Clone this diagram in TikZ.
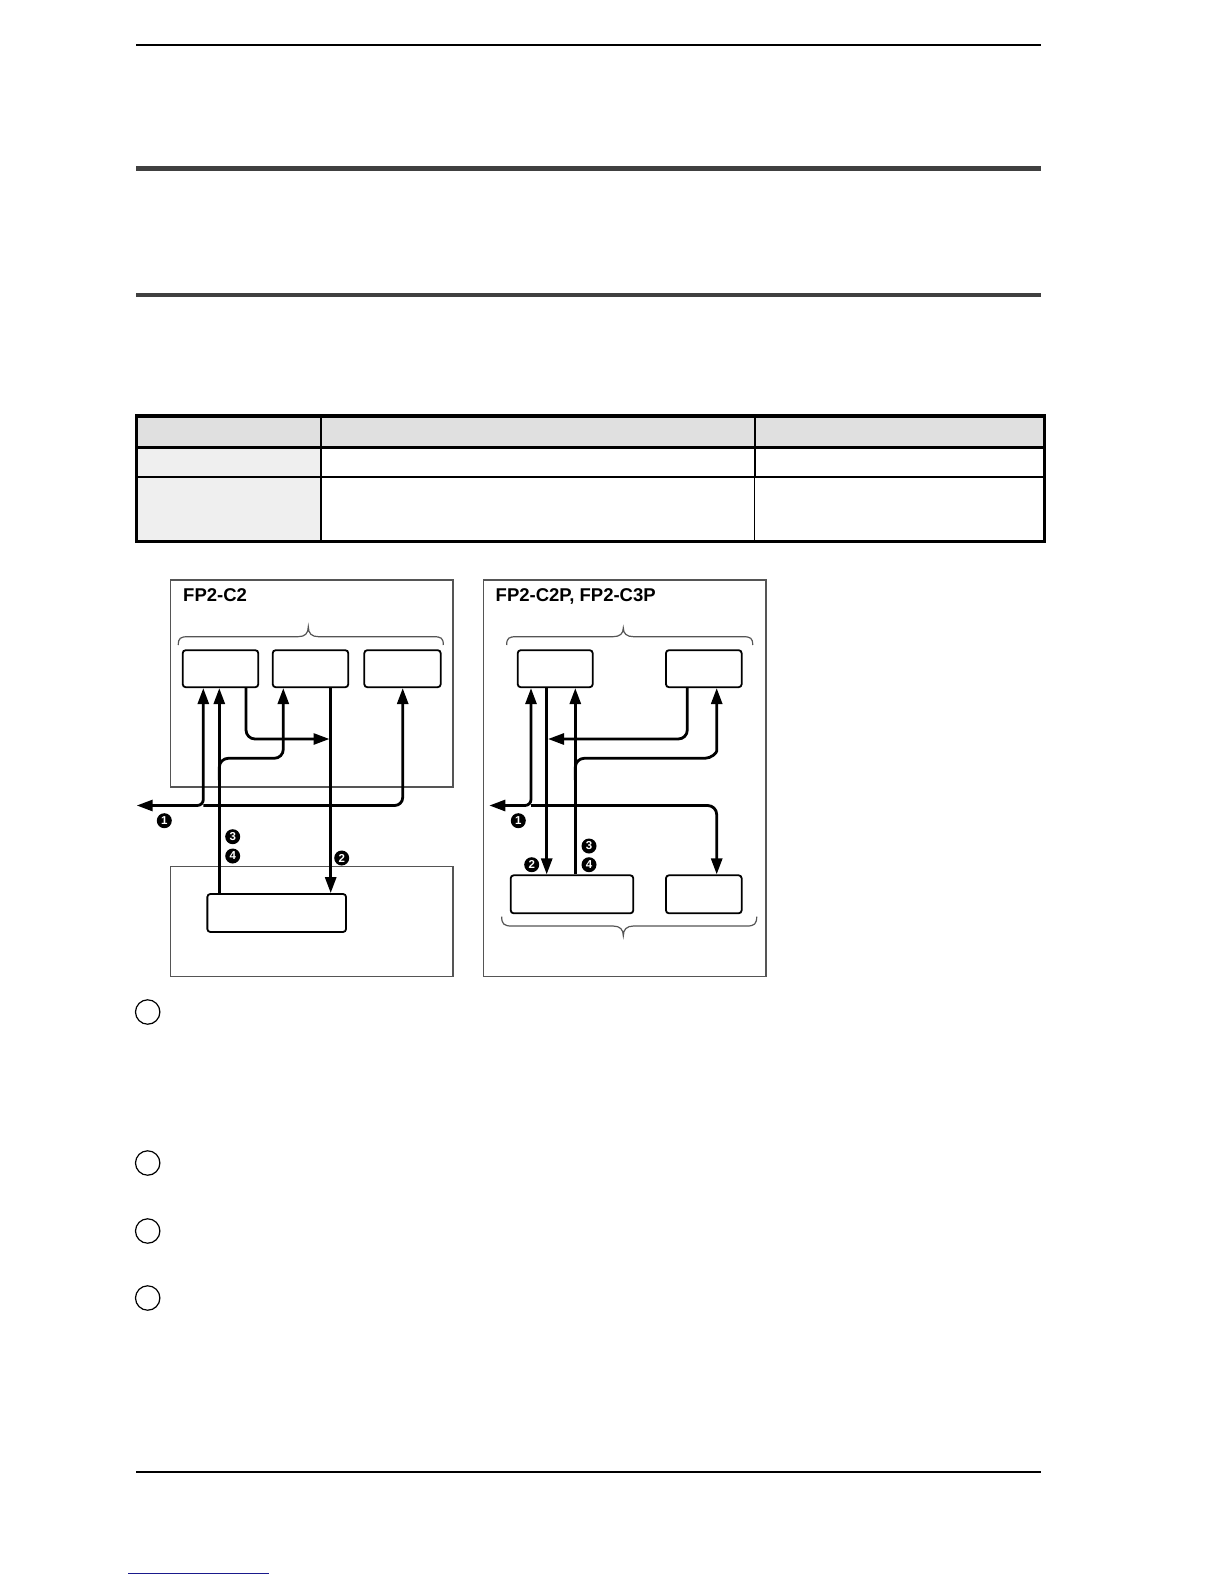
\documentclass[tikz,border=0pt]{standalone}
\usepackage{fontspec}
\setmainfont{Liberation Sans}
\usetikzlibrary{arrows.meta}
\definecolor{bardark}{HTML}{404040}
\definecolor{hdrgray}{HTML}{E0E0E0}
\definecolor{colgray}{HTML}{EFEFEF}
\definecolor{framegray}{HTML}{555555}
\definecolor{linkblue}{HTML}{1A1A8C}
\begin{document}
\begin{tikzpicture}[x=1pt,y=-1pt,
  >={Triangle[length=16pt,width=11pt]},
  modbox/.style={draw=black,line width=1.8pt,rounded corners=3pt,inner sep=0pt,minimum height=37pt},
  framebox/.style={draw=framegray,line width=1.3pt},
  bracepath/.style={draw=framegray,line width=1.2pt},
  conn/.style={draw=black,line width=2.8pt,rounded corners=7pt},
  num/.style={circle,fill=black,text=white,inner sep=0pt,minimum size=15pt,font=\bfseries\fontsize{11.5}{11.5}\selectfont},
  title/.style={anchor=base west,inner sep=0pt,font=\bfseries\fontsize{18.5}{18.5}\selectfont}]
\useasboundingbox (0,0) rectangle (1224,1584);
\fill[white] (0,0) rectangle (1224,1584);

% page rules
\draw[line width=2pt] (136.4,45.5) -- (1041.3,45.5);
\draw[bardark,line width=5pt] (136.4,168.5) -- (1041.3,168.5);
\draw[bardark,line width=4pt] (136.4,294.5) -- (1041.3,294.5);
\draw[line width=2pt] (136.4,1471.6) -- (1041.3,1471.6);
\draw[linkblue,line width=1.5pt] (128.3,1573.6) -- (268.7,1573.6);

% table
\fill[hdrgray] (136.4,416) rectangle (1044.3,447.4);
\fill[colgray] (136.4,447.4) rectangle (321.2,541.7);
\draw[line width=1.8pt] (136.4,476.7) -- (1044.3,476.7);
\draw[line width=3pt] (136.4,447.4) -- (1044.3,447.4);
\draw[line width=2pt] (321.2,416) -- (321.2,541.7);
\draw[line width=2pt] (754.5,416) -- (754.5,476.7);
\draw[line width=1.2pt] (754.5,476.7) -- (754.5,541.7);
\draw[line width=3.5pt] (136.4,416) rectangle (1044.3,541.7);

% frames
\draw[framebox] (170.7,580) rectangle (453,787);
\draw[framebox] (170.7,866.7) rectangle (453,976.7);
\draw[framebox] (483.3,580) rectangle (766,976.7);

\node[title] (tl) at (183,601.5) {FP2-C2};
\node[title] (tr) at (495.5,601.5) {FP2-C2P, FP2-C3P};

% braces
\draw[bracepath] (178.3,645) .. controls (178.3,638) and (180.5,636.7) .. (188,636.7) -- (298,636.7)
  .. controls (305,636.7) and (308.3,633.5) .. (308.3,626.7)
  .. controls (308.3,633.5) and (311.6,636.7) .. (318.6,636.7) -- (433.6,636.7)
  .. controls (441.1,636.7) and (443.3,638) .. (443.3,645);
\draw[bracepath] (506.7,645) .. controls (506.7,638) and (508.9,636.7) .. (516.4,636.7) -- (613,636.7)
  .. controls (620,636.7) and (623.3,633.5) .. (623.3,628)
  .. controls (623.3,633.5) and (626.6,636.7) .. (633.6,636.7) -- (743,636.7)
  .. controls (750.5,636.7) and (752.7,638) .. (752.7,645);
\draw[bracepath] (501.7,916.7) .. controls (501.7,923.7) and (503.9,926) .. (511.4,926) -- (613,926)
  .. controls (620,926) and (623.3,929.5) .. (623.3,935.7)
  .. controls (623.3,929.5) and (626.6,926) .. (633.6,926) -- (747,926)
  .. controls (754.5,926) and (756.7,923.7) .. (756.7,916.7);

% modules
\node[modbox,minimum width=75.6pt] (b1) at (220.5,668.7) {};
\node[modbox,minimum width=75.6pt] (b2) at (310.5,668.7) {};
\node[modbox,minimum width=76.4pt] (b3) at (402.5,668.7) {};
\node[modbox,minimum width=138.7pt,minimum height=38pt] (lb) at (276.7,913) {};
\node[modbox,minimum width=75pt] (rA) at (555.2,668.7) {};
\node[modbox,minimum width=75.7pt] (rB) at (703.8,668.7) {};
\node[modbox,minimum width=122.6pt,minimum height=38pt] (rC) at (572,894.3) {};
\node[modbox,minimum width=75.7pt,minimum height=38pt] (rD) at (703.8,894.3) {};

\coordinate (busL) at (136.7,805.5);
\coordinate (busR) at (489.3,805.5);

% left connectors
\draw[conn,<->,rounded corners=6pt] (203.3,0 |- b1.south) -- (203.3,805.5) -- (busL);
\draw[conn,->,rounded corners=8pt] (203.3,805.5) -- (402.7,805.5) -- (402.7,0 |- b3.south);
\draw[conn,->] (219.3,0 |- lb.north) -- (219.3,0 |- b1.south);
\draw[conn,->,rounded corners=9pt] (219.3,780) -- (219.3,758.3) -- (283.3,758.3) -- (283.3,0 |- b2.south);
\draw[conn,->,rounded corners=9pt] (246,0 |- b1.south) -- (246,739) -- (329.5,739);
\draw[conn,->] (330.7,0 |- b2.south) -- (330.7,0 |- lb.north);

\node[num] (n1l) at (164.3,820.7) {1};
\node[num] (n3l) at (232.7,836.7) {3};
\node[num] (n4l) at (232.7,856) {4};
\node[num] (n2l) at (341.7,858) {2};

% right connectors
\draw[conn,<->,rounded corners=6pt] (531,0 |- rA.south) -- (531,805.5) -- (busR);
\draw[conn,->,rounded corners=9pt] (531,805.5) -- (716.7,805.5) -- (716.7,0 |- rD.north);
\draw[conn,->] (546.7,0 |- rA.south) -- (546.7,0 |- rC.north);
\draw[conn,->] (575.3,0 |- rC.north) -- (575.3,0 |- rA.south);
\draw[conn,->,rounded corners=9pt] (687.3,0 |- rB.south) -- (687.3,739) -- (548,739);
\draw[conn,->,rounded corners=9pt] (575.3,780) -- (575.3,758.3) -- (696,758.3)
  .. controls (711,758.3) and (716.7,753) .. (716.7,742) -- (716.7,0 |- rB.south);

\node[num] (n1r) at (518.3,820.7) {1};
\node[num] (n2r) at (531.7,864.7) {2};
\node[num] (n3r) at (589,846) {3};
\node[num] (n4r) at (589,864.7) {4};

% list circles
\draw[line width=1.2pt] (147.7,1012) circle[radius=12.2];
\draw[line width=1.2pt] (147.7,1163) circle[radius=12.2];
\draw[line width=1.2pt] (147.7,1231) circle[radius=12.2];
\draw[line width=1.2pt] (147.7,1298) circle[radius=12.2];
\end{tikzpicture}
\end{document}
